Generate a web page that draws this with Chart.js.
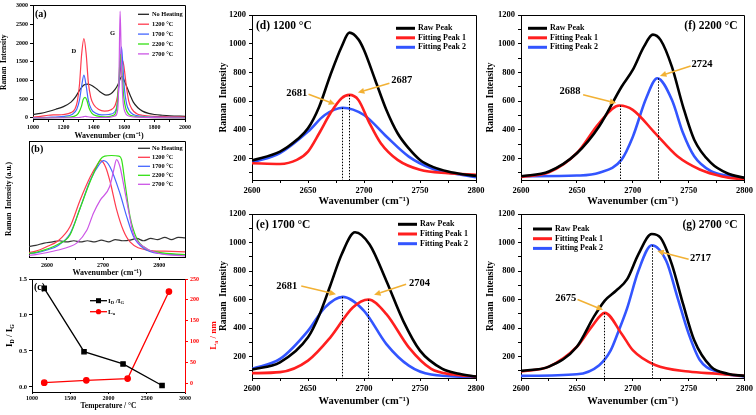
<!DOCTYPE html>
<html>
<head>
<meta charset="utf-8">
<script src="https://cdn.jsdelivr.net/npm/chart.js@4.4.1/dist/chart.umd.min.js"></script>
<style>
  body { margin: 0; background: #fff; width: 756px; height: 415px; overflow: hidden; position: relative; }
  canvas { position: absolute; }
</style>
</head>
<body>
<canvas id="pa" width="200" height="141" style="left:0;top:0"></canvas>
<canvas id="pb" width="200" height="143" style="left:0;top:135px"></canvas>
<canvas id="pc" width="220" height="139" style="left:0;top:272px"></canvas>
<canvas id="pd" width="272" height="208" style="left:218px;top:0"></canvas>
<canvas id="pf" width="271" height="208" style="left:485px;top:0"></canvas>
<canvas id="pe" width="272" height="209" style="left:218px;top:199px"></canvas>
<canvas id="pg" width="271" height="209" style="left:485px;top:199px"></canvas>
<script>
// ---- (a) first-order Raman spectra ----
const legendA = ["No Heating", "1200 °C", "1700 °C", "2200 °C", "2700 °C"];
const aNoHeatX = [1000,1050,1100,1150,1200,1250,1280,1310,1335,1360,1390,1420,1450,1480,1510,1540,1560,1575,1585,1600,1620,1640,1660,1690,1720,1760,1800,1850,1900,2000];
const aNoHeatY = [90,120,170,230,300,420,560,760,880,900,860,770,670,610,640,760,900,1050,1110,1000,800,600,420,270,180,120,90,70,55,40];
const a1200X = [1000,1050,1100,1150,1200,1250,1275,1292,1306,1320,1335,1350,1364,1380,1400,1430,1470,1510,1540,1555,1568,1580,1590,1600,1614,1630,1650,1680,1720,1800,1900,2000];
const a1200Y = [20,40,70,80,90,140,230,450,900,1700,2120,1700,950,550,350,230,180,210,330,560,1000,1450,1530,1320,850,450,240,120,70,40,30,20];
const a1700X = [1000,1100,1200,1260,1288,1306,1320,1335,1350,1364,1384,1410,1450,1500,1540,1558,1570,1582,1592,1602,1616,1635,1660,1700,1800,2000];
const a1700Y = [5,15,40,100,230,480,850,1140,850,470,230,130,80,90,170,470,1150,1900,1350,750,370,180,90,50,20,10];
const a2200X = [1000,1200,1270,1298,1318,1330,1342,1354,1368,1388,1420,1480,1530,1553,1566,1576,1586,1597,1612,1630,1660,1720,2000];
const a2200Y = [0,10,40,120,300,490,550,480,270,120,55,30,70,320,1100,1700,1200,560,230,100,50,20,0];
const a2700X = [1000,1300,1335,1345,1360,1400,1500,1540,1557,1566,1573,1581,1591,1605,1630,1680,2000];
const a2700Y = [0,10,35,40,30,10,15,50,220,1200,2850,1550,520,160,50,20,0];
const aXTicks = [1000,1100,1200,1300,1400,1500,1600,1700,1800,1900,2000];
const aXLabels = [1000,1200,1400,1600,1800,2000];
const aYTicks = [0,500,1000,1500,2000,2500,3000];

// ---- (b) 2D band, normalised ----
const bNoHeatX = [2568,2580,2595,2610,2622,2635,2648,2660,2672,2685,2697,2710,2722,2735,2748,2760,2772,2785,2797,2810,2822,2834,2846];
const bNoHeatY = [0.09,0.10,0.12,0.13,0.14,0.13,0.14,0.13,0.14,0.13,0.145,0.13,0.15,0.14,0.145,0.16,0.14,0.16,0.15,0.17,0.15,0.17,0.165];
const b1200X = [2568,2580,2600,2620,2641,2659,2677,2689,2696,2705,2713,2724,2736,2748,2778,2810,2846];
const b1200Y = [0.04,0.05,0.09,0.14,0.26,0.49,0.69,0.79,0.83,0.77,0.64,0.41,0.23,0.13,0.06,0.05,0.045];
const b1700X = [2568,2580,2600,2620,2641,2659,2677,2692,2701,2712,2730,2742,2754,2772,2800,2846];
const b1700Y = [0.03,0.035,0.06,0.10,0.20,0.42,0.66,0.79,0.83,0.78,0.55,0.35,0.18,0.075,0.03,0.02];
const b2200X = [2568,2580,2620,2641,2659,2677,2695,2703,2715,2728,2733,2739,2748,2760,2778,2800,2846];
const b2200Y = [0.03,0.04,0.11,0.19,0.42,0.65,0.84,0.87,0.875,0.87,0.84,0.64,0.35,0.16,0.07,0.04,0.02];
const b2700X = [2568,2580,2620,2641,2653,2671,2683,2695,2712,2719,2724,2730,2736,2745,2754,2772,2800,2846];
const b2700Y = [0.015,0.02,0.06,0.09,0.12,0.23,0.38,0.49,0.61,0.75,0.84,0.78,0.64,0.41,0.20,0.09,0.03,0.01];
const bXTicks = [2600,2650,2700,2750,2800];
const bXLabels = [2600,2700,2800];

// ---- (c) ID/IG and La vs temperature ----
const cTempRatio = [1160,1680,2190,2700];
const cRatio = [1.37,0.49,0.32,0.02];
const cTempLa = [1160,1710,2250,2790];
const cLa = [2.4,8,12,220];
const cXTicks = [1000,1500,2000,2500,3000];
const cYTicks = [0,0.5,1.0,1.5];
const cY2Ticks = [0,50,100,150,200,250];

// ---- (d)-(g) peak fitting ----
const fitNames = ["Raw Peak", "Fitting Peak 1", "Fitting Peak 2"];
const fitXTicks = [2600,2625,2650,2675,2700,2725,2750,2775,2800];
const fitXLabels = [2600,2650,2700,2750,2800];
const fitYTicks = [100,200,300,400,500,600,700,800,900,1000,1100,1200];
const fitYLabels = [200,400,600,800,1000,1200];

const dRawX = [2600,2625,2640,2650,2660,2670,2680,2687,2695,2700,2710,2720,2730,2740,2750,2762,2775,2788,2800];
const dRawY = [186,248,330,410,561,782,979,1077,1030,956,747,538,376,270,190,140,109,90,79];
const dFit1X = [2600,2625,2640,2650,2660,2670,2680,2687,2695,2705,2715,2730,2750,2775,2800];
const dFit1Y = [167,162,190,248,376,515,620,643,608,445,306,190,121,97,86];
const dFit2X = [2600,2625,2650,2665,2681,2700,2720,2740,2760,2780,2800];
const dFit2Y = [172,237,387,503,554,503,353,213,132,95,70];

const fRawX = [2600,2625,2650,2670,2690,2700,2710,2718,2725,2735,2745,2755,2770,2785,2800];
const fRawY = [76,109,236,424,700,817,979,1063,1025,840,562,331,169,95,65];
const fFit1X = [2600,2625,2650,2670,2688,2700,2720,2740,2760,2780,2800];
const fFit1Y = [72,104,238,447,569,539,377,215,123,75,53];
const fFit2X = [2600,2650,2670,2690,2700,2712,2722,2735,2745,2755,2770,2785,2800];
const fFit2Y = [76,81,100,192,350,620,759,609,377,215,111,80,65];

const eRawX = [2600,2625,2650,2660,2670,2680,2692,2705,2720,2735,2750,2770,2785,2800];
const eRawY = [109,160,335,490,700,916,1072,986,730,451,242,114,80,60];
const eFit1X = [2600,2625,2650,2670,2690,2704,2720,2740,2760,2780,2800];
const eFit1Y = [84,91,172,335,544,600,498,265,114,74,60];
const eFit2X = [2600,2625,2650,2665,2681,2700,2720,2740,2760,2800];
const eFit2Y = [114,184,381,544,619,521,288,137,74,56];

const gRawX = [2600,2625,2650,2665,2675,2685,2695,2705,2717,2725,2735,2745,2755,2770,2785,2800];
const gRawY = [100,130,269,477,593,662,743,917,1060,1032,847,569,315,130,80,65];
const gFit1X = [2600,2625,2650,2663,2675,2690,2700,2720,2750,2775,2800];
const gFit1Y = [95,130,269,407,507,361,245,141,95,80,65];
const gFit2X = [2600,2650,2670,2680,2687,2695,2705,2717,2730,2740,2750,2760,2775,2800];
const gFit2Y = [65,76,140,240,373,540,800,981,870,616,361,176,95,60];

const SERIF = '"Liberation Serif", "Times New Roman", serif';
Chart.defaults.font.family = SERIF;
Chart.defaults.font.weight = 'bold';
Chart.defaults.color = '#000';
Chart.defaults.animation = false;
Chart.defaults.plugins.legend.display = false;
Chart.defaults.plugins.tooltip.enabled = false;
Chart.defaults.elements.point.radius = 0;
Chart.defaults.elements.line.cubicInterpolationMode = 'monotone';

const pts = (xs, ys) => xs.map((x, i) => ({ x: x, y: ys[i] }));
const al = v => Math.round(v - 0.5) + 0.5;

function richText(ctx, parts, x, y, size) {
  // parts: [text, 0 normal | 1 subscript | 2 superscript]
  let cx = x;
  for (const [t, k] of parts) {
    const s = k ? size * 0.65 : size;
    ctx.font = 'bold ' + s + 'px ' + SERIF;
    ctx.fillText(t, cx, y + (k === 1 ? size * 0.3 : k === 2 ? -size * 0.35 : 0));
    cx += ctx.measureText(t).width;
  }
  return cx - x;
}
function richWidth(ctx, parts, size) {
  let w = 0;
  for (const [t, k] of parts) {
    ctx.font = 'bold ' + (k ? size * 0.65 : size) + 'px ' + SERIF;
    w += ctx.measureText(t).width;
  }
  return w;
}

function linScale(o) {
  const col = o.color || '#000';
  return {
    type: 'linear', position: o.pos || 'bottom', min: o.min, max: o.max,
    afterBuildTicks: s => { s.ticks = o.ticks.map(v => ({ value: v })); },
    afterFit: s => { if (s.isHorizontal()) s.height = o.size; else s.width = o.size; },
    ticks: {
      display: o.noLabels ? false : true,
      autoSkip: false, maxRotation: 0, padding: o.pad == null ? 3 : o.pad,
      font: { size: o.fs, weight: 'bold' }, color: col,
      callback: v => (o.labels || o.ticks).includes(v) ? (o.fmt ? o.fmt(v) : String(v)) : ''
    },
    grid: { drawOnChartArea: false, drawTicks: !o.noTicks, tickLength: o.tl == null ? 3 : o.tl, color: col, lineWidth: 1 },
    border: { display: true, color: col, width: 1 },
    title: o.title ? { display: true, text: o.title, color: col, font: { size: o.tfs, weight: 'bold' }, padding: o.tpad || 0 } : { display: false }
  };
}

const decoPlugin = {
  id: 'deco',
  afterDatasetsDraw(chart, args, o) {
    const ctx = chart.ctx, a = chart.chartArea, xs = chart.scales.x, ys = chart.scales.y;
    ctx.save();
    // frame
    ctx.lineWidth = 1;
    ctx.strokeStyle = '#000';
    ctx.beginPath();
    ctx.moveTo(al(a.left), al(a.top)); ctx.lineTo(al(a.right), al(a.top));
    ctx.stroke();
    ctx.strokeStyle = o.rightColor || '#000';
    ctx.beginPath();
    ctx.moveTo(al(a.right), al(a.top)); ctx.lineTo(al(a.right), al(a.bottom));
    ctx.stroke();
    // dotted peak markers
    (o.vlines || []).forEach(v => {
      const px = al(xs.getPixelForValue(v.x));
      ctx.strokeStyle = '#000'; ctx.lineWidth = 1; ctx.setLineDash([1.5, 1.5]);
      ctx.beginPath(); ctx.moveTo(px, ys.getPixelForValue(v.y)); ctx.lineTo(px, a.bottom); ctx.stroke();
      ctx.setLineDash([]);
    });
    // arrows
    (o.arrows || []).forEach(r => {
      const x1 = xs.getPixelForValue(r.x1), y1 = ys.getPixelForValue(r.y1);
      const x2 = xs.getPixelForValue(r.x2), y2 = ys.getPixelForValue(r.y2);
      const ang = Math.atan2(y2 - y1, x2 - x1), hl = 6.5, hw = 3;
      const bx = x2 - hl * Math.cos(ang), by = y2 - hl * Math.sin(ang);
      ctx.strokeStyle = '#f2b134'; ctx.fillStyle = '#f2b134'; ctx.lineWidth = 1.6;
      ctx.beginPath(); ctx.moveTo(x1, y1); ctx.lineTo(bx, by); ctx.stroke();
      ctx.beginPath();
      ctx.moveTo(x2, y2);
      ctx.lineTo(bx + hw * Math.sin(ang), by - hw * Math.cos(ang));
      ctx.lineTo(bx - hw * Math.sin(ang), by + hw * Math.cos(ang));
      ctx.closePath(); ctx.fill();
    });
    // texts in data units
    ctx.fillStyle = '#000'; ctx.textBaseline = 'middle';
    (o.texts || []).forEach(t => {
      ctx.font = 'bold ' + t.size + 'px ' + SERIF; ctx.textAlign = 'center';
      ctx.fillText(t.t, xs.getPixelForValue(t.x), ys.getPixelForValue(t.y));
    });
    // panel labels (offsets from the plot corner)
    (o.labels || []).forEach(t => {
      ctx.font = 'bold ' + t.size + 'px ' + SERIF;
      ctx.textAlign = t.align || 'left';
      const x = t.align === 'right' ? a.right + t.dx : a.left + t.dx;
      ctx.fillText(t.t, x, a.top + t.dy);
    });
    // legend
    if (o.legend) {
      const g = o.legend;
      chart.data.datasets.forEach((ds, i) => {
        const y = a.top + g.dy + i * g.gap;
        const x0 = a.left + g.dx;
        ctx.strokeStyle = ds.borderColor; ctx.lineWidth = g.lw;
        ctx.beginPath(); ctx.moveTo(x0, y); ctx.lineTo(x0 + g.len, y); ctx.stroke();
        if (g.markers) {
          ctx.fillStyle = ds.borderColor;
          const mx = x0 + g.len / 2;
          if (ds.pointStyle === 'rect') ctx.fillRect(mx - 2.5, y - 2.5, 5, 5);
          else { ctx.beginPath(); ctx.arc(mx, y, 2.6, 0, Math.PI * 2); ctx.fill(); }
        }
        ctx.fillStyle = '#000'; ctx.textAlign = 'left';
        if (g.rich) richText(ctx, g.rich[i], a.left + g.tdx, y, g.size);
        else { ctx.font = 'bold ' + g.size + 'px ' + SERIF; ctx.fillText(ds.label, a.left + g.tdx, y); }
      });
    }
    // rotated rich axis titles
    (o.vtitles || []).forEach(t => {
      const w = richWidth(ctx, t.parts, t.size);
      ctx.save();
      ctx.translate(t.x, (a.top + a.bottom) / 2);
      ctx.rotate(-Math.PI / 2);
      ctx.fillStyle = t.color || '#000'; ctx.textAlign = 'left';
      richText(ctx, t.parts, -w / 2, 0, t.size);
      ctx.restore();
    });
    ctx.restore();
  }
};
Chart.register(decoPlugin);

// (a)
(function () {
  const cols = ['#222222', '#ff3b4e', '#4466ff', '#33e014', '#cc55e6'];
  const xs = [aNoHeatX, a1200X, a1700X, a2200X, a2700X];
  const ys = [aNoHeatY, a1200Y, a1700Y, a2200Y, a2700Y];
  new Chart(document.getElementById('pa'), {
    type: 'line',
    data: { datasets: legendA.map((l, i) => ({ label: l, data: pts(xs[i], ys[i]), borderColor: cols[i], borderWidth: 1.2, order: 4 - i })) },
    options: {
      responsive: false, devicePixelRatio: 1,
      layout: { padding: { top: 4, right: 15, left: 0, bottom: 0 } },
      scales: {
        x: linScale({ min: 1000, max: 2000, ticks: aXTicks, labels: aXLabels, size: 22, fs: 6, pad: 2, title: 'Wavenumber (cm⁻¹)', tfs: 8 }),
        y: linScale({ pos: 'left', min: -30, max: 3000, ticks: aYTicks, size: 33, fs: 6, pad: 2, title: 'Raman  Intensity', tfs: 7.5 })
      },
      plugins: {
        deco: {
          labels: [{ t: '(a)', dx: 2, dy: 9, size: 10 }],
          texts: [{ t: 'D', x: 1268, y: 1775, size: 6.5 }, { t: 'G', x: 1524, y: 2257, size: 6.5 }],
          legend: { dx: 105, dy: 8.7, gap: 9.9, len: 11, tdx: 119, size: 6.3, lw: 1.3 }
        }
      }
    }
  });
})();

// (b)
(function () {
  const cols = ['#333333', '#ff3b4e', '#4466ff', '#33e014', '#cc55e6'];
  const xs = [bNoHeatX, b1200X, b1700X, b2200X, b2700X];
  const ys = [bNoHeatY, b1200Y, b1700Y, b2200Y, b2700Y];
  new Chart(document.getElementById('pb'), {
    type: 'line',
    data: { datasets: legendA.map((l, i) => ({ label: l, data: pts(xs[i], ys[i]), borderColor: cols[i], borderWidth: 1.2, order: 4 - i })) },
    options: {
      responsive: false, devicePixelRatio: 1,
      layout: { padding: { top: 6, right: 15, left: 0, bottom: 0 } },
      scales: {
        x: linScale({ min: 2568, max: 2846, ticks: bXTicks, labels: bXLabels, size: 21, fs: 6, pad: 2, title: 'Wavenumber (cm⁻¹)', tfs: 8 }),
        y: linScale({ pos: 'left', min: 0, max: 1, ticks: [0, 1], noLabels: true, noTicks: true, size: 29, fs: 6, title: 'Raman  Intensity (a.u.)', tfs: 7.5, tpad: { top: 5, bottom: 0 } })
      },
      plugins: {
        deco: {
          labels: [{ t: '(b)', dx: 2, dy: 8, size: 10 }],
          legend: { dx: 109, dy: 7.3, gap: 9, len: 12, tdx: 123, size: 6.3, lw: 1.3 }
        }
      }
    }
  });
})();

// (c)
(function () {
  const yc = linScale({ pos: 'left', min: -0.07, max: 1.5, ticks: cYTicks, size: 32, fs: 6.5, pad: 2, fmt: v => v.toFixed(1) });
  const y2 = linScale({ pos: 'right', min: -20, max: 250, ticks: cY2Ticks, size: 35, fs: 6, pad: 2, color: '#ff0000' });
  new Chart(document.getElementById('pc'), {
    type: 'line',
    data: { datasets: [
      { label: 'ratio', data: pts(cTempRatio, cRatio), yAxisID: 'y', borderColor: '#000000', backgroundColor: '#000000', borderWidth: 1.3, pointStyle: 'rect', pointRadius: 3, cubicInterpolationMode: 'default', tension: 0 },
      { label: 'La', data: pts(cTempLa, cLa), yAxisID: 'y2', borderColor: '#ff0000', backgroundColor: '#ff0000', borderWidth: 1.3, pointStyle: 'circle', pointRadius: 2.7, cubicInterpolationMode: 'default', tension: 0 }
    ] },
    options: {
      responsive: false, devicePixelRatio: 1,
      layout: { padding: { top: 7, right: 0, left: 0, bottom: 0 } },
      scales: {
        x: linScale({ min: 1000, max: 3000, ticks: cXTicks, size: 19, fs: 6, pad: 1, tl: 2, title: 'Temperature / °C', tfs: 7.5 }),
        y: yc,
        y2: y2
      },
      plugins: {
        deco: {
          rightColor: '#ff0000',
          labels: [{ t: '(c)', dx: 2, dy: 8, size: 10 }],
          legend: { dx: 58, dy: 21.7, gap: 11, len: 17, tdx: 76, size: 7, lw: 1.3, markers: true,
            rich: [[['I', 0], ['D', 1], [' /I', 0], ['G', 1]], [['L', 0], ['a', 1]]] },
          vtitles: [
            { x: 10, size: 9, parts: [['I', 0], ['D', 1], [' / I', 0], ['G', 1]] },
            { x: 214, size: 9, color: '#ff0000', parts: [['L', 0], ['a', 1], [' / nm', 0]] }
          ]
        }
      }
    }
  });
})();

// (d)-(g)
function fitPanel(id, raw, f1, f2, padR, yw, xh, deco) {
  const cols = ['#000000', '#ff1f1f', '#3355ff'];
  const data = [raw, f1, f2];
  new Chart(document.getElementById(id), {
    type: 'line',
    data: { datasets: fitNames.map((n, i) => ({ label: n, data: data[i], borderColor: cols[i], borderWidth: 2.6 })) },
    options: {
      responsive: false, devicePixelRatio: 1,
      layout: { padding: { top: 15, right: padR, left: 0, bottom: 0 } },
      scales: {
        x: linScale({ min: 2600, max: 2800, ticks: fitXTicks, labels: fitXLabels, size: xh, fs: 8.5, title: 'Wavenumber (cm⁻¹)', tfs: 10.5 }),
        y: linScale({ pos: 'left', min: 50, max: 1200, ticks: fitYTicks, labels: fitYLabels, size: yw, fs: 8.5, title: 'Raman  Intensity', tfs: 9.5 })
      },
      plugins: { deco: deco }
    }
  });
}

fitPanel('pd', pts(dRawX, dRawY), pts(dFit1X, dFit1Y), pts(dFit2X, dFit2Y), 14, 34, 28, {
  labels: [{ t: '(d) 1200 °C', dx: 4, dy: 11, size: 11.5 }],
  legend: { dx: 144, dy: 13.3, gap: 9.5, len: 19, tdx: 166, size: 8, lw: 3 },
  vlines: [{ x: 2681, y: 554 }, { x: 2687, y: 643 }],
  arrows: [{ x1: 2650.5, y1: 647, x2: 2674.3, y2: 578 }, { x1: 2722.7, y1: 724, x2: 2694.5, y2: 659 }],
  texts: [{ t: '2681', x: 2640, y: 654, size: 10.5 }, { t: '2687', x: 2733.7, y: 747, size: 10.5 }]
});
fitPanel('pf', pts(fRawX, fRawY), pts(fFit1X, fFit1Y), pts(fFit2X, fFit2Y), 10, 36, 28, {
  labels: [{ t: '(f) 2200 °C', dx: -7, dy: 11, size: 11.5, align: 'right' }],
  legend: { dx: 7, dy: 13.3, gap: 9.5, len: 19, tdx: 29, size: 8, lw: 3 },
  vlines: [{ x: 2689, y: 569 }, { x: 2723, y: 759 }],
  arrows: [{ x1: 2655.6, y1: 644, x2: 2685.2, y2: 586 }, { x1: 2751.8, y1: 845, x2: 2724.3, y2: 775 }],
  texts: [{ t: '2688', x: 2643.8, y: 667, size: 10.5 }, { t: '2724', x: 2762, y: 859, size: 10.5 }]
});
fitPanel('pe', pts(eRawX, eRawY), pts(eFit1X, eFit1Y), pts(eFit2X, eFit2Y), 14, 34, 30, {
  labels: [{ t: '(e) 1700 °C', dx: 4, dy: 11, size: 11.5 }],
  legend: { dx: 146, dy: 10.3, gap: 9.7, len: 19, tdx: 168, size: 8, lw: 3 },
  vlines: [{ x: 2681, y: 619 }, { x: 2704, y: 600 }],
  arrows: [{ x1: 2644, y1: 695, x2: 2675, y2: 637 }, { x1: 2737.6, y1: 707, x2: 2709, y2: 633 }],
  texts: [{ t: '2681', x: 2631, y: 695, size: 10.5 }, { t: '2704', x: 2749.5, y: 714, size: 10.5 }]
});
fitPanel('pg', pts(gRawX, gRawY), pts(gFit1X, gFit1Y), pts(gFit2X, gFit2Y), 10, 36, 30, {
  labels: [{ t: '(g) 2700 °C', dx: -7, dy: 11, size: 11.5, align: 'right' }],
  legend: { dx: 12, dy: 15, gap: 9.7, len: 19, tdx: 34, size: 8, lw: 3 },
  vlines: [{ x: 2675, y: 507 }, { x: 2718, y: 981 }],
  arrows: [{ x1: 2650.6, y1: 600, x2: 2673.4, y2: 528 }, { x1: 2750, y1: 882, x2: 2722, y2: 940 }],
  texts: [{ t: '2675', x: 2640, y: 609, size: 10.5 }, { t: '2717', x: 2760.7, y: 889, size: 10.5 }]
});
</script>
</body>
</html>
